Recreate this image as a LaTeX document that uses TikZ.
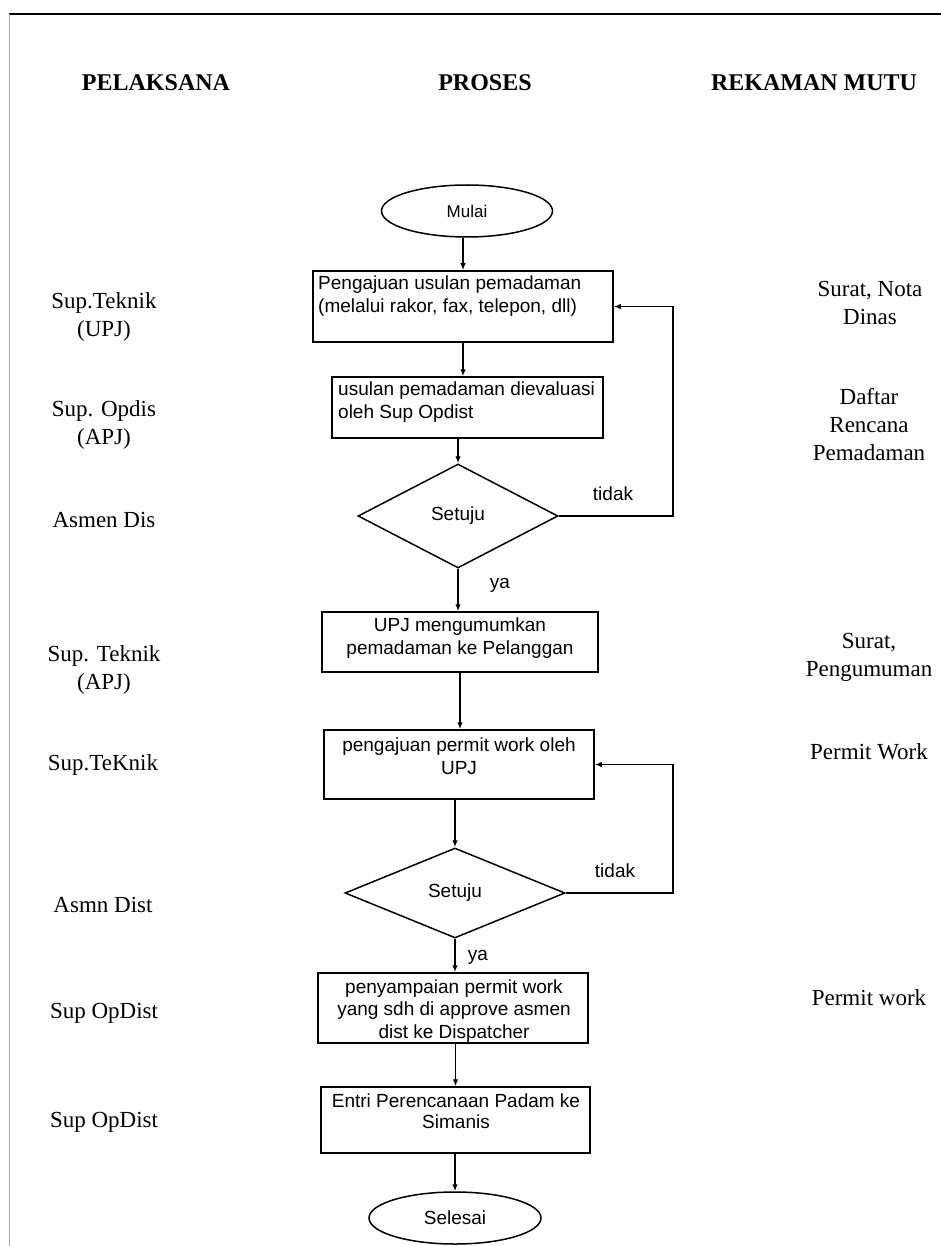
\documentclass[tikz,border=0pt]{standalone}
\usepackage{fontspec}
\setmainfont{Liberation Serif}
\newfontfamily\arialf{Liberation Sans}
\usetikzlibrary{shapes.geometric,arrows.meta}
\begin{document}
\begin{tikzpicture}[x=1pt,y=-1pt,
  flow/.style={draw, line width=1.5pt, font=\arialf\fontsize{19}{23}\selectfont, inner sep=0pt},
  box/.style={flow, rectangle},
  ell/.style={flow, ellipse},
  dia/.style={flow, diamond},
  ftext/.style={font=\arialf\fontsize{19}{23}\selectfont, inner sep=0pt},
  lab/.style={font=\fontsize{23}{28}\selectfont, align=center, inner sep=0pt},
  head/.style={font=\bfseries\fontsize{24}{28}\selectfont, inner sep=0pt},
  arr/.style={line width=1.5pt, -{Latex[length=7pt,width=5.5pt]}},
  rule/.style={line width=2.5pt},
  edge/.style={line width=0.8pt, black!35}
]
\useasboundingbox (0,0) rectangle (941,1246);

% page border lines
\coordinate (tl) at (9,14);
\coordinate (tr) at (941,14);
\coordinate (bl) at (9,1246);
\draw[rule] (tl) -- (tr);
\draw[edge] (tl) -- (bl);

% headers
\node[head] (h1) at (156,83) {PELAKSANA};
\node[head] (h2) at (485,83) {PROSES};
\node[head] (h3) at (814,83) {REKAMAN MUTU};

% left labels
\node[lab] (l1) at (104,317) {Sup.Teknik\\(UPJ)};
\node[lab] (l2) at (104,425) {Sup. Opdis\\(APJ)};
\node[lab] (l3) at (104,520) {Asmen Dis};
\node[lab] (l4) at (104,670) {Sup. Teknik\\(APJ)};
\node[lab] (l5) at (103,765) {Sup.TeKnik};
\node[lab] (l6) at (103,905) {Asmn Dist};
\node[lab] (l7) at (104,1013) {Sup OpDist};
\node[lab] (l8) at (104,1122) {Sup OpDist};

% right labels
\node[lab] (r1) at (870,303) {Surat, Nota\\Dinas};
\node[lab] (r2) at (869,425) {Daftar\\Rencana\\Pemadaman};
\node[lab] (r3) at (869,657) {Surat,\\Pengumuman};
\node[lab] (r4) at (869,752) {Permit Work};
\node[lab] (r5) at (869,998) {Permit work};

% flow
\node[ell, minimum width=171pt, minimum height=52pt, font=\arialf\fontsize{17}{20}\selectfont] (mulai) at (467,211) {Mulai};

\node[box, minimum width=300pt, minimum height=71pt] (box1) at (463,306.5) {};
\node[ftext, anchor=west, align=left] (t1) at (318,296) {Pengajuan usulan pemadaman\\(melalui rakor, fax, telepon, dll)};

\node[box, minimum width=271pt, minimum height=61pt] (box2) at (467.5,407.5) {};
\node[ftext, anchor=west, align=left] (t2) at (338,402) {usulan pemadaman dievaluasi\\oleh Sup Opdist};

\node[dia, minimum width=200pt, minimum height=104pt] (dia1) at (458,516) {Setuju};
\node[ftext] (tidak1) at (613,494) {tidak};
\node[ftext] (ya1) at (500,585) {ya};

\node[box, minimum width=276pt, minimum height=60pt] (box3) at (460,642) {};
\node[ftext, align=center] (t3) at (460,638) {UPJ mengumumkan\\pemadaman ke Pelanggan};

\node[box, minimum width=270pt, minimum height=69pt] (box4) at (459,764.5) {};
\node[ftext, align=center] (t4) at (459,756) {pengajuan permit work oleh\\UPJ};

\node[dia, minimum width=220pt, minimum height=90pt] (dia2) at (455,893) {Setuju};
\node[ftext] (tidak2) at (615,871) {tidak};
\node[ftext] (ya2) at (478,957) {ya};

\node[box, minimum width=270pt, minimum height=70pt] (box5) at (453,1008) {};
\node[ftext, align=center, font=\arialf\fontsize{19}{22.5}\selectfont] (t5) at (454,1011) {penyampaian permit work\\yang sdh di approve asmen\\dist ke Dispatcher};

\node[box, minimum width=269pt, minimum height=66pt] (box6) at (455.5,1120) {};
\node[ftext, align=center, font=\arialf\fontsize{19}{21}\selectfont] (t6) at (456,1111) {Entri Perencanaan Padam ke\\Simanis};

\node[ell, minimum width=172pt, minimum height=52pt] (selesai) at (455,1218) {Selesai};

% connectors
\coordinate (loop) at (673,0);
\draw[arr] (box1.north |- mulai.south) -- (box1.north);
\draw[arr] (box1.south) -- (box1.south |- box2.north);
\draw[arr] (dia1.north |- box2.south) -- (dia1.north);
\draw[arr] (dia1.east) -- (dia1.east -| loop) |- (box1.east);
\draw[arr] (dia1.south) -- (dia1.south |- box3.north);
\draw[arr] (box3.south) -- (box3.south |- box4.north);
\draw[arr] (dia2.north |- box4.south) -- (dia2.north);
\draw[arr] (dia2.east) -- (dia2.east -| loop) |- (box4.east);
\draw[arr] (dia2.south) -- (dia2.south |- box5.north);
\draw[arr] (box6.north |- box5.south) -- (box6.north);
\draw[arr] (selesai.north |- box6.south) -- (selesai.north);
\end{tikzpicture}
\end{document}
